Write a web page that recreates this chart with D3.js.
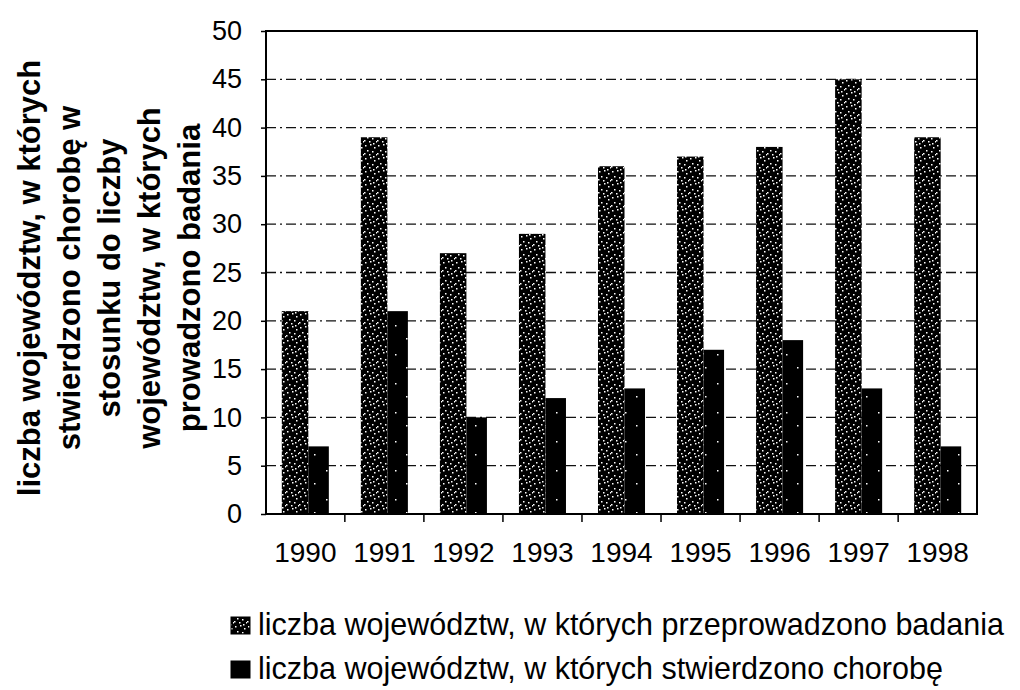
<!DOCTYPE html>
<head>
<meta charset="utf-8">
<style>
body { margin: 0; background: #fff; }
svg { display: block; }
.tick text, .lbl { font-family: Arial, "Liberation Sans", sans-serif; fill: #000; }
.ytitle { font-family: Arial, "Liberation Sans", sans-serif; font-weight: bold; font-size: 31px; fill: #000; }
</style>
</head>
<body>
<svg width="1020" height="690"></svg>
<script src="https://d3js.org/d3.v7.min.js"></script>
<script>
// data
var years = ["1990","1991","1992","1993","1994","1995","1996","1997","1998"];
var badane = [21, 39, 27, 29, 36, 37, 38, 45, 39];     // liczba województw, w których przeprowadzono badania
var chore = [7, 21, 10, 12, 13, 17, 18, 13, 7];        // liczba województw, w których stwierdzono chorobę
var seriesNames = ["liczba województw, w których przeprowadzono badania",
                   "liczba województw, w których stwierdzono chorobę"];
var yTicks = [0, 5, 10, 15, 20, 25, 30, 35, 40, 45, 50];
var titleLines = ["liczba województw, w których", "stwierdzono chorobę w", "stosunku do liczby",
                  "województw, w których", "prowadzono badania"];

var svg = d3.select("svg"),
    pLeft = 266, pRight = 977, pTop = 31, pBottom = 514;

// speckled fills imitating the scanned print
var defs = svg.append("defs");
var p1 = defs.append("pattern").attr("id", "speck1").attr("patternUnits", "userSpaceOnUse")
    .attr("width", 13).attr("height", 13);
p1.append("rect").attr("width", 13).attr("height", 13).attr("fill", "#000");
[[1,2],[6,1],[10,4],[3,7],[8,8],[12,11],[5,11],[0,10],[9,0]].forEach(function(d) {
  p1.append("rect").attr("x", d[0]).attr("y", d[1]).attr("width", 1.5).attr("height", 1.5).attr("fill", "#fff");
});
var p2 = defs.append("pattern").attr("id", "speck2").attr("patternUnits", "userSpaceOnUse")
    .attr("width", 23).attr("height", 29);
p2.append("rect").attr("width", 23).attr("height", 29).attr("fill", "#000");
[[4,6],[15,19]].forEach(function(d) {
  p2.append("rect").attr("x", d[0]).attr("y", d[1]).attr("width", 1.5).attr("height", 1.5).attr("fill", "#fff");
});

var x = d3.scaleBand().domain(years).range([pLeft, pRight]).paddingInner(0.405).paddingOuter(0.2);
var x1 = d3.scaleBand().domain([0, 1]).range([0, x.bandwidth()]);
var y = d3.scaleLinear().domain([0, 50]).range([pBottom, pTop]);

// gridlines
svg.append("g").selectAll("line")
  .data(yTicks.slice(1))
  .enter().append("line")
    .attr("x1", pLeft).attr("x2", pRight)
    .attr("y1", function(d) { return y(d); }).attr("y2", function(d) { return y(d); })
    .attr("stroke", "#111").attr("stroke-width", 1.3)
    .attr("stroke-dasharray", "10,4,2,4");

// bars
var g = svg.append("g");
g.selectAll(".b1").data(badane).enter().append("rect")
    .attr("class", "b1")
    .attr("x", function(d, i) { return x(years[i]) + x1(0); })
    .attr("width", x1.bandwidth() + 3)
    .attr("y", function(d) { return y(d); })
    .attr("height", function(d) { return y(0) - y(d); })
    .attr("fill", "url(#speck1)");
g.selectAll(".b2").data(chore).enter().append("rect")
    .attr("class", "b2")
    .attr("x", function(d, i) { return x(years[i]) + x1(1) + 3; })
    .attr("width", x1.bandwidth() - 3)
    .attr("y", function(d) { return y(d); })
    .attr("height", function(d) { return y(0) - y(d); })
    .attr("fill", "url(#speck2)");

// plot frame
svg.append("rect").attr("x", pLeft).attr("y", pTop).attr("width", pRight - pLeft).attr("height", pBottom - pTop)
    .attr("fill", "none").attr("stroke", "#000").attr("stroke-width", 2);

// y axis
var yAxis = svg.append("g").attr("transform", "translate(" + pLeft + ",0)")
    .call(d3.axisLeft(y).tickValues(yTicks).tickSize(5).tickPadding(19));
yAxis.select(".domain").remove();
yAxis.selectAll(".tick line").attr("stroke", "#000").attr("stroke-width", 1.5);
yAxis.selectAll(".tick text").style("font-size", "27px");

// x axis: ticks on category boundaries, labels centered
var xAxis = svg.append("g").attr("transform", "translate(0," + pBottom + ")")
    .call(d3.axisBottom(x).tickSize(0).tickPadding(28));
xAxis.select(".domain").remove();
xAxis.selectAll(".tick text").style("font-size", "28px");
var step = x.step();
svg.append("g").selectAll("line")
  .data(years.slice(1))
  .enter().append("line")
    .attr("x1", function(d) { return x(d) - x.paddingInner() * step / 2; })
    .attr("x2", function(d) { return x(d) - x.paddingInner() * step / 2; })
    .attr("y1", pBottom).attr("y2", pBottom + 8)
    .attr("stroke", "#000").attr("stroke-width", 1.5);

// y title
var tt = svg.append("text").attr("class", "ytitle")
    .attr("transform", "translate(0,278) rotate(-90)")
    .attr("text-anchor", "middle");
titleLines.forEach(function(s, i) {
  tt.append("tspan").attr("x", 0).attr("y", 40 + i * 40).text(s);
});

// legend
var leg = svg.append("g");
seriesNames.forEach(function(s, i) {
  var yy = 635 + i * 44;
  leg.append("rect").attr("x", 231).attr("y", yy - 18).attr("width", 19).attr("height", 17)
      .attr("fill", i === 0 ? "url(#speck1)" : "#000").attr("stroke", "#000");
  leg.append("text").attr("class", "lbl").attr("x", 258).attr("y", yy)
      .style("font-size", "30.5px").text(s);
});
</script>
</body>
